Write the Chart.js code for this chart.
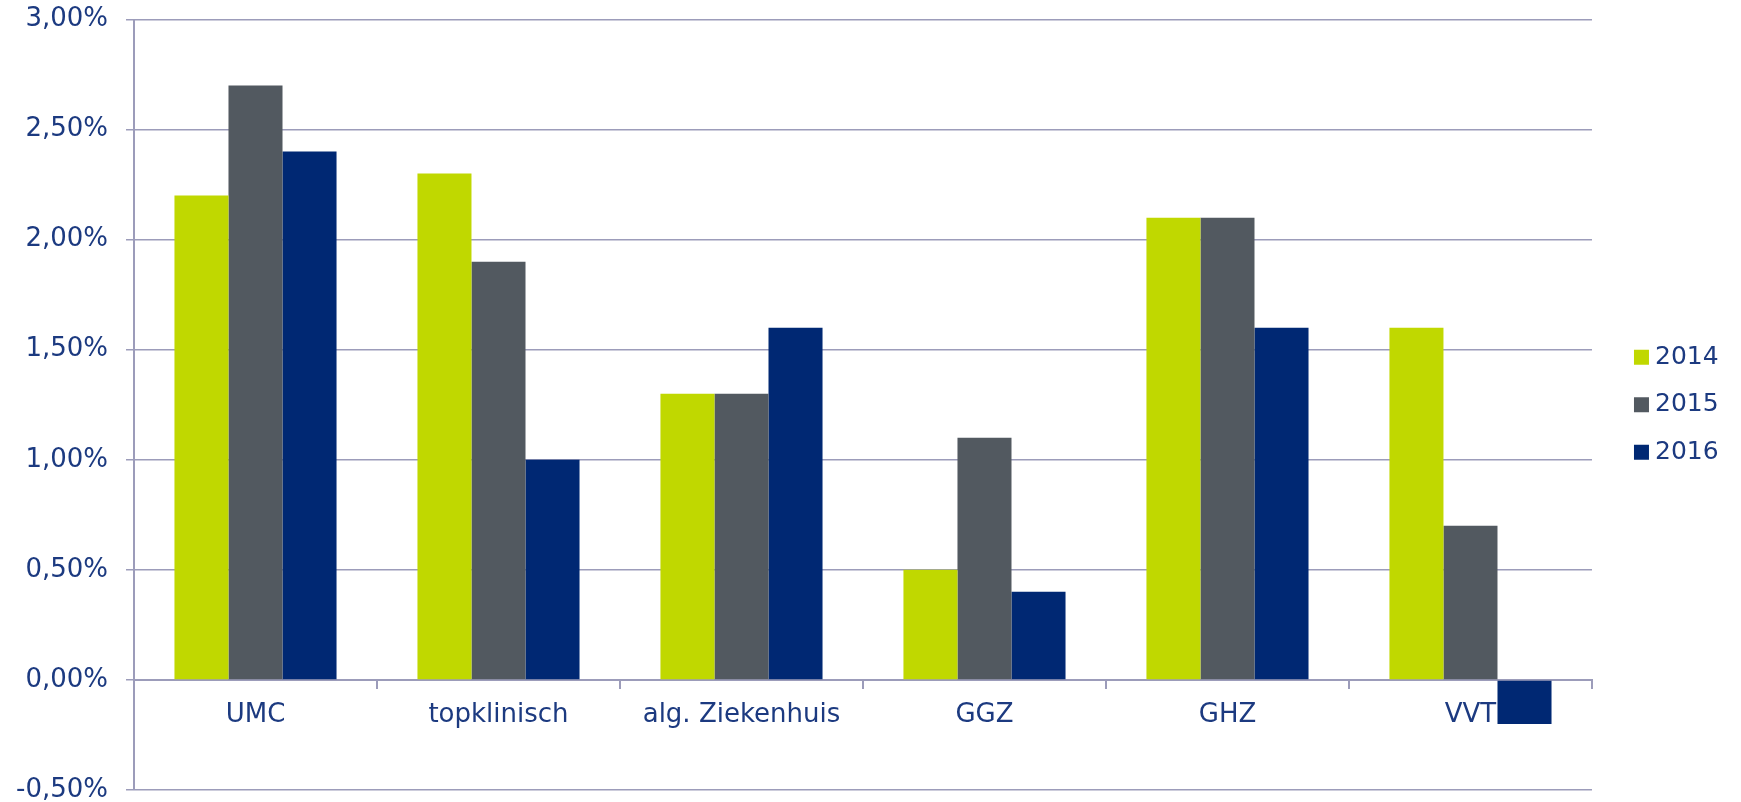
<!DOCTYPE html>
<html>
<head>
<meta charset="utf-8">
<script src="https://cdn.jsdelivr.net/npm/chart.js@4.4.1/dist/chart.umd.min.js"></script>
<style>
  html, body { margin: 0; padding: 0; background: #ffffff; }
  #wrap { width: 1741px; height: 802px; }
</style>
</head>
<body>
<div id="wrap"><canvas id="c" width="1741" height="802"></canvas></div>
<script>
const categories = ['UMC', 'topklinisch', 'alg. Ziekenhuis', 'GGZ', 'GHZ', 'VVT'];
const seriesNames = ['2014', '2015', '2016'];
const values2014 = [2.2, 2.3, 1.3, 0.5, 2.1, 1.6];
const values2015 = [2.7, 1.9, 1.3, 1.1, 2.1, 0.7];
const values2016 = [2.4, 1.0, 1.6, 0.4, 1.6, -0.2];
const yMin = -0.5, yMax = 3.0, yStep = 0.5;

const colors = ['#c0d800', '#525960', '#002873'];
const textColor = '#1c3a80';
const lineColor = '#9c9cba';
const fontFamily = '"DejaVu Sans", Verdana, sans-serif';

const ctx = document.getElementById('c').getContext('2d');
new Chart(ctx, {
  type: 'bar',
  data: {
    labels: categories,
    datasets: [values2014, values2015, values2016].map((vals, i) => ({
      label: seriesNames[i],
      data: vals,
      backgroundColor: colors[i],
      borderWidth: 0,
      categoryPercentage: 0.667,
      barPercentage: 1.0
    }))
  },
  options: {
    responsive: false,
    animation: false,
    devicePixelRatio: 1,
    layout: { padding: { top: 19.5, bottom: 12, left: 0, right: 12.4 } },
    plugins: {
      tooltip: { enabled: false },
      legend: {
        position: 'right',
        align: 'center',
        labels: {
          usePointStyle: true,
          pointStyle: 'rect',
          boxWidth: 2,
          boxHeight: 15,
          padding: 22.5,
          color: textColor,
          font: { family: fontFamily, size: 25 }
        }
      }
    },
    scales: {
      x: {
        type: 'category',
        position: { y: 0 },
        offset: true,
        grid: {
          offset: true,
          drawOnChartArea: false,
          drawTicks: true,
          tickLength: 8,
          color: lineColor,
          lineWidth: 2
        },
        border: { display: true, color: lineColor, width: 2 },
        ticks: {
          color: textColor,
          padding: 12,
          maxRotation: 0,
          autoSkip: false,
          font: { family: fontFamily, size: 26 }
        }
      },
      y: {
        type: 'linear',
        position: 'left',
        min: yMin,
        max: yMax,
        afterFit: (s) => { s.width = 134; s.paddingTop = 0; s.paddingBottom = 0; },
        grid: {
          color: lineColor,
          lineWidth: 1.5,
          drawTicks: true,
          tickLength: 8
        },
        border: { display: true, color: lineColor, width: 2 },
        ticks: {
          stepSize: yStep,
          color: textColor,
          padding: 18,
          font: { family: fontFamily, size: 26 },
          callback: (v) => Number(v).toFixed(2).replace('.', ',') + '%'
        }
      },
      gap: {
        type: 'linear',
        position: 'right',
        display: true,
        afterFit: (s) => { s.width = 26; s.paddingTop = 0; s.paddingBottom = 0; },
        grid: { display: false, drawTicks: false },
        border: { display: false },
        ticks: { display: false }
      }
    }
  }
});
</script>
</body>
</html>
